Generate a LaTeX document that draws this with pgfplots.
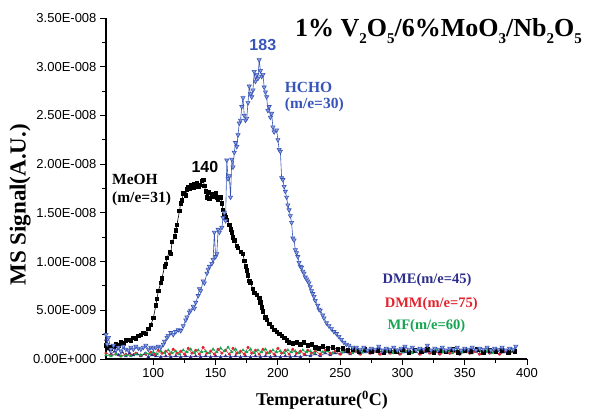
\documentclass[border=0pt]{standalone}
\usepackage{fontspec}
\setmainfont{Liberation Serif}
\setsansfont{Liberation Sans}
\usepackage{pgfplots}
\pgfplotsset{compat=1.18}
\definecolor{hcho}{RGB}{55,85,185}
\definecolor{dme}{RGB}{45,45,140}
\definecolor{dmm}{RGB}{225,35,45}
\definecolor{mf}{RGB}{20,165,80}
\newcommand\sub[1]{\raisebox{-0.55ex}{\fontsize{15}{15}\selectfont #1}}
\begin{document}
\begin{tikzpicture}
\useasboundingbox (-106pt,-51pt) rectangle (484pt,359pt);
\begin{axis}[
  at={(0pt,0pt)}, anchor=south west,
  scale only axis, width=421pt, height=341pt,
  xmin=62, xmax=400, ymin=0, ymax=3.5,
  axis x line*=bottom, axis y line*=left,
  axis line style={line width=1.1pt},
  tick align=outside,
  major tick length=6pt, minor tick length=3.5pt,
  every tick/.style={black, line width=0.9pt},
  xtick={100,150,...,400}, minor x tick num=1,
  ytick={0,0.5,...,3.5}, minor y tick num=1,
  yticklabels={0.00E+000,5.00E-009,1.00E-008,1.50E-008,2.00E-008,2.50E-008,3.00E-008,3.50E-008},
  /pgf/number format/assume math mode=true,
  tick label style={font=\sffamily\fontsize{13}{13}\selectfont},
  xlabel={\textbf{Temperature(\textsuperscript{0}C)}},
  ylabel={\textbf{MS Signal(A.U.)}},
  xlabel style={font=\fontsize{18}{18}\selectfont, at={(axis description cs:0.513,-0.136)}, anchor=base},
  ylabel style={font=\fontsize{23}{23}\selectfont, at={(axis description cs:-0.204,0.452)}, anchor=center, rotate=0},
  clip=false,
]
% DME baseline
\addplot[dme, line width=0.5pt, mark=triangle*, mark size=1.6pt] coordinates {
(62,0.20)(64,0.10)(66,0.05)(69,0.08)(72,0.04)(75,0.07)(78,0.03)(81,0.06)(84,0.04)(87,0.05)
(90,0.03)(93,0.05)(96,0.02)(99,0.04)(102,0.03)(106,0.02)(110,0.03)(114,0.02)(118,0.03)(122,0.02)
(126,0.03)(130,0.02)(134,0.03)(138,0.02)(142,0.03)(146,0.02)(150,0.03)(154,0.02)(158,0.03)(162,0.02)
(166,0.03)(170,0.02)(174,0.03)(178,0.02)(182,0.03)(186,0.02)(190,0.03)(194,0.02)(198,0.03)(202,0.02)
(206,0.03)(210,0.02)(214,0.03)(218,0.02)(222,0.04)(226,0.03)(230,0.05)(234,0.03)(238,0.06)(242,0.04)
(246,0.06)(250,0.05)(254,0.07)(258,0.05)(262,0.08)(266,0.05)(270,0.07)(274,0.06)(278,0.08)(282,0.05)
(286,0.07)(290,0.06)(294,0.08)(298,0.05)(302,0.07)(306,0.06)(310,0.08)(314,0.05)(318,0.07)(322,0.06)
(326,0.08)(330,0.05)(334,0.07)(338,0.06)(342,0.08)(346,0.05)(350,0.07)(354,0.06)(358,0.08)(362,0.05)
(366,0.07)(370,0.06)(374,0.08)(378,0.05)(382,0.07)(386,0.06)(390,0.07)
};
% DMM baseline
\addplot[dmm, line width=0.5pt, mark=*, mark size=1.3pt] coordinates {
(62,0.06)(66,0.04)(70,0.05)(74,0.03)(78,0.05)(82,0.04)(86,0.06)(90,0.04)(94,0.05)(98,0.07)
(101,0.05)(104,0.09)(107,0.06)(110,0.08)(113,0.05)(116,0.10)(119,0.06)(122,0.08)(125,0.05)(128,0.11)
(131,0.06)(134,0.09)(137,0.05)(140,0.12)(143,0.06)(146,0.08)(149,0.05)(152,0.10)(155,0.06)(158,0.09)
(161,0.05)(164,0.11)(167,0.06)(170,0.08)(173,0.05)(176,0.12)(179,0.06)(182,0.09)(185,0.05)(188,0.10)
(191,0.06)(194,0.08)(197,0.05)(200,0.11)(203,0.06)(206,0.09)(209,0.05)(212,0.10)(215,0.06)(218,0.08)
(221,0.05)(224,0.09)(227,0.06)(230,0.08)(234,0.05)(238,0.09)(242,0.06)(246,0.08)(250,0.05)(254,0.09)
(258,0.06)(262,0.08)(266,0.05)(270,0.09)(274,0.06)(278,0.08)(282,0.05)(286,0.09)(290,0.06)(294,0.08)
(298,0.05)(302,0.09)(306,0.06)(310,0.08)(314,0.05)(318,0.09)(322,0.06)(326,0.08)(330,0.05)(334,0.09)
(338,0.06)(342,0.08)(346,0.05)(350,0.09)(354,0.06)(358,0.08)(362,0.05)(366,0.09)(370,0.06)(374,0.08)
(378,0.05)(382,0.09)(386,0.06)(390,0.08)
};
% MF baseline
\addplot[mf, line width=0.5pt, mark=triangle*, mark size=1.5pt] coordinates {
(62,0.04)(66,0.03)(70,0.05)(74,0.03)(78,0.04)(82,0.03)(86,0.05)(90,0.04)(94,0.06)(97,0.05)
(100,0.07)(103,0.05)(106,0.08)(109,0.06)(112,0.09)(115,0.06)(118,0.08)(121,0.05)(124,0.09)(127,0.07)
(130,0.10)(133,0.06)(136,0.09)(139,0.07)(142,0.08)(145,0.06)(148,0.10)(151,0.07)(154,0.11)(157,0.08)
(160,0.12)(163,0.07)(166,0.10)(169,0.06)(172,0.09)(175,0.07)(178,0.10)(181,0.06)(184,0.09)(187,0.07)
(190,0.10)(193,0.06)(196,0.09)(199,0.07)(202,0.08)(205,0.06)(208,0.09)(211,0.07)(214,0.08)(217,0.06)
(220,0.09)(223,0.07)(226,0.08)(229,0.06)(232,0.09)(236,0.07)(240,0.08)(244,0.06)(248,0.09)(252,0.07)
(256,0.08)(260,0.06)(264,0.09)(268,0.07)(272,0.08)(276,0.06)(280,0.09)(284,0.07)(288,0.08)(292,0.06)
(296,0.09)(300,0.07)(304,0.08)(308,0.06)(312,0.09)(316,0.07)(320,0.08)(324,0.06)(328,0.09)(332,0.07)
(336,0.08)(340,0.06)(344,0.09)(348,0.07)(352,0.08)(356,0.06)(360,0.09)(364,0.07)(368,0.08)(372,0.06)
(376,0.09)(380,0.07)(384,0.08)(388,0.10)(390,0.07)
};
% MeOH
\addplot[black, line width=0.6pt, mark=square*, mark size=1.7pt] coordinates {
(62,0.14)(64,0.12)(66,0.11)(68,0.13)(70,0.15)(72,0.14)(74,0.17)(76,0.16)(78,0.19)(80,0.20)
(82,0.19)(84,0.22)(86,0.21)(88,0.24)(90,0.25)(92,0.27)(94,0.26)(96,0.31)(98,0.35)(100,0.42)
(102,0.55)(103,0.62)(104,0.70)(106,0.78)(107,0.83)(109,0.95)(110,0.98)(111,1.04)(113,1.10)(114,1.08)
(115,1.20)(117,1.26)(118,1.32)(119,1.38)(121,1.52)(122,1.60)(123,1.63)(124,1.70)(126,1.68)(127,1.74)
(128,1.77)(129,1.75)(130,1.79)(132,1.76)(133,1.80)(134,1.78)(135,1.81)(136,1.77)(137,1.79)(139,1.83)
(140,1.84)(141,1.78)(142,1.72)(143,1.66)(144,1.71)(145,1.65)(147,1.69)(148,1.67)(150,1.70)(151,1.66)
(152,1.64)(154,1.66)(155,1.60)(156,1.53)(157,1.48)(158,1.46)(159,1.43)(161,1.38)(162,1.33)(163,1.30)
(164,1.25)(165,1.22)(167,1.16)(168,1.14)(170,1.10)(172,1.08)(173,1.01)(174,0.95)(175,0.91)(176,0.86)
(177,0.80)(178,0.78)(180,0.72)(181,0.68)(183,0.66)(185,0.63)(186,0.58)(187,0.53)(188,0.49)(190,0.43)
(191,0.40)(193,0.36)(195,0.33)(197,0.30)(199,0.28)(201,0.26)(203,0.24)(205,0.22)(207,0.19)(209,0.17)
(212,0.16)(215,0.17)(218,0.15)(221,0.17)(224,0.14)(227,0.15)(230,0.12)(233,0.11)(236,0.13)(240,0.11)
(244,0.12)(248,0.10)(252,0.11)(256,0.09)(260,0.10)(265,0.08)(270,0.10)(275,0.08)(280,0.09)(285,0.07)
(290,0.09)(295,0.08)(300,0.10)(305,0.07)(310,0.09)(315,0.08)(320,0.10)(325,0.07)(330,0.09)(335,0.08)
(340,0.10)(345,0.07)(350,0.09)(355,0.08)(360,0.10)(365,0.07)(370,0.09)(375,0.08)(380,0.09)(385,0.07)
(390,0.08)
};
% HCHO
\addplot[hcho, line width=0.6pt, mark=triangle*, mark size=2.4pt,
  mark options={rotate=180, fill=hcho!55!white, draw=hcho}] coordinates {
(62,0.25)(63,0.15)(64,0.22)(66,0.10)(68,0.14)(70,0.09)(72,0.12)(74,0.08)(76,0.13)(78,0.10)
(80,0.09)(82,0.12)(84,0.10)(86,0.13)(88,0.11)(90,0.10)(92,0.12)(94,0.14)(96,0.10)(98,0.12)
(100,0.11)(102,0.12)(104,0.13)(106,0.12)(108,0.15)(109,0.18)(111,0.22)(112,0.24)(114,0.27)(116,0.25)
(118,0.28)(120,0.30)(122,0.29)(124,0.34)(126,0.40)(127,0.43)(129,0.48)(130,0.50)(132,0.54)(133,0.52)
(134,0.58)(136,0.65)(137,0.72)(138,0.70)(140,0.80)(141,0.78)(143,0.88)(144,0.92)(145,0.95)(147,0.98)
(148,1.02)(149,1.30)(150,1.05)(151,1.08)(152,1.33)(153,1.30)(155,1.35)(156,1.45)(157,1.50)(158,1.42)
(159,2.04)(160,1.85)(161,1.88)(162,1.66)(163,2.05)(164,1.97)(165,2.12)(166,2.22)(167,2.18)(168,2.30)
(169,2.42)(170,2.45)(171,2.59)(172,2.68)(173,2.50)(174,2.45)(175,2.47)(176,2.63)(177,2.80)(178,2.72)
(179,2.69)(180,2.76)(181,2.95)(182,2.85)(183,2.92)(184,2.88)(185,3.07)(186,2.96)(187,2.90)(188,2.92)
(189,2.79)(190,2.74)(191,2.69)(192,2.55)(193,2.59)(194,2.48)(195,2.52)(196,2.38)(197,2.33)(199,2.35)
(200,2.25)(201,2.15)(202,2.13)(203,1.86)(204,1.84)(205,1.77)(206,1.72)(207,1.66)(208,1.58)(209,1.53)
(210,1.47)(211,1.40)(212,1.24)(213,1.22)(214,1.12)(215,1.09)(216,1.05)(217,0.99)(218,0.95)(219,0.94)
(220,0.90)(221,0.88)(222,0.84)(223,0.82)(224,0.80)(225,0.78)(226,0.74)(227,0.70)(228,0.67)(229,0.64)
(230,0.60)(232,0.55)(233,0.51)(234,0.50)(236,0.45)(237,0.42)(239,0.37)(241,0.34)(243,0.31)(245,0.28)
(247,0.26)(249,0.23)(251,0.20)(253,0.17)(255,0.15)(257,0.14)(260,0.12)(263,0.12)(266,0.10)(269,0.12)
(272,0.09)(275,0.11)(278,0.10)(281,0.13)(284,0.09)(287,0.11)(290,0.10)(293,0.12)(296,0.09)(299,0.11)
(302,0.13)(305,0.10)(308,0.12)(311,0.09)(314,0.11)(317,0.10)(320,0.14)(323,0.09)(326,0.11)(329,0.10)
(332,0.12)(335,0.09)(338,0.11)(341,0.10)(344,0.12)(347,0.09)(350,0.11)(353,0.10)(356,0.12)(359,0.09)
(362,0.11)(365,0.10)(368,0.12)(371,0.09)(374,0.11)(377,0.10)(380,0.12)(383,0.09)(386,0.11)(389,0.10)
(391,0.13)
};
% annotations
\node[font=\sffamily\bfseries\fontsize{16}{16}\selectfont, black, inner sep=0pt] at (axis cs:141.4,1.97) {140};
\node[font=\sffamily\bfseries\fontsize{16}{16}\selectfont, hcho, inner sep=0pt] at (axis cs:187.9,3.22) {183};
\node[font=\bfseries\fontsize{15.5}{15.5}\selectfont, black, anchor=base west, inner sep=0pt] at (axis cs:66.8,1.786) {MeOH};
\node[font=\bfseries\fontsize{15.5}{15.5}\selectfont, black, anchor=base west, inner sep=0pt] at (axis cs:66.8,1.61) {(m/e=31)};
\node[font=\bfseries\fontsize{15.5}{15.5}\selectfont, hcho, anchor=base west, inner sep=0pt] at (axis cs:205.5,2.74) {HCHO};
\node[font=\bfseries\fontsize{15.5}{15.5}\selectfont, hcho, anchor=base west, inner sep=0pt] at (axis cs:205.5,2.57) {(m/e=30)};
\node[font=\bfseries\fontsize{14.5}{14.5}\selectfont, dme, anchor=base west, inner sep=0pt] at (axis cs:284,0.77) {DME(m/e=45)};
\node[font=\bfseries\fontsize{14.5}{14.5}\selectfont, dmm, anchor=base west, inner sep=0pt] at (axis cs:285.7,0.53) {DMM(m/e=75)};
\node[font=\bfseries\fontsize{14.5}{14.5}\selectfont, mf, anchor=base west, inner sep=0pt] at (axis cs:288,0.30) {MF(m/e=60)};
\end{axis}
\node[font=\bfseries\fontsize{26}{26}\selectfont, anchor=base west, inner sep=0pt] at (189pt,322pt) {1\% V\sub{2}O\sub{5}/6\%MoO\sub{3}/Nb\sub{2}O\sub{5}};
\end{tikzpicture}
\end{document}
